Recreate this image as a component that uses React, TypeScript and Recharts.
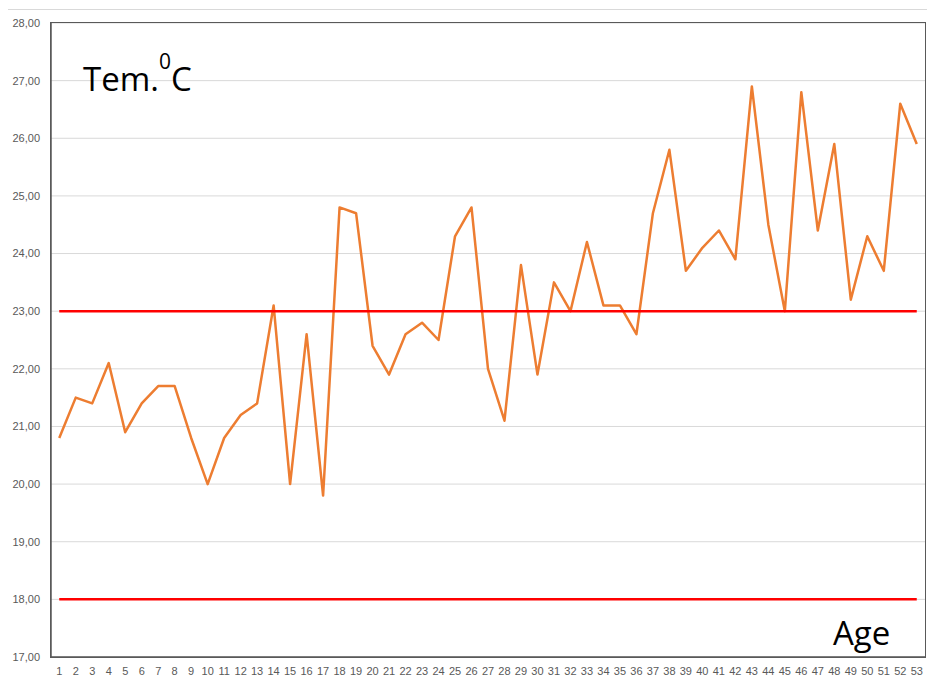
import React from "react";
import { LineChart, Line, XAxis, YAxis, CartesianGrid, ReferenceLine } from "recharts";

const ages = [
  1, 2, 3, 4, 5, 6, 7, 8, 9, 10, 11, 12, 13, 14, 15, 16, 17, 18, 19, 20, 21, 22, 23, 24, 25, 26, 27,
  28, 29, 30, 31, 32, 33, 34, 35, 36, 37, 38, 39, 40, 41, 42, 43, 44, 45, 46, 47, 48, 49, 50, 51, 52, 53,
];

const temps = [
  20.8, 21.5, 21.4, 22.1, 20.9, 21.4, 21.7, 21.7, 20.8, 20.0,
  20.8, 21.2, 21.4, 23.1, 20.0, 22.6, 19.8, 24.8, 24.7, 22.4,
  21.9, 22.6, 22.8, 22.5, 24.3, 24.8, 22.0, 21.1, 23.8, 21.9,
  23.5, 23.0, 24.2, 23.1, 23.1, 22.6, 24.7, 25.8, 23.7, 24.1,
  24.4, 23.9, 26.9, 24.5, 23.0, 26.8, 24.4, 25.9, 23.2, 24.3,
  23.7, 26.6, 25.9,
];

const yTicks = [17, 18, 19, 20, 21, 22, 23, 24, 25, 26, 27, 28];
const upperLimit = 23;
const lowerLimit = 18;
const yTitle = "Tem.";
const yTitleSup = "0";
const yTitleUnit = "C";
const xTitle = "Age";

const data = ages.map((a, i) => ({ age: a, temp: temps[i] }));

const fmt = (v: number) => v.toFixed(2).replace(".", ",");

const M = { top: 15, right: 10, bottom: 4, left: 0 };
const W = 927;
const H = 673;
const YW = 43;
const XH = 20;

export default function App() {
  const first = ages[0];
  const last = ages[ages.length - 1];
  return (
    <div style={{ position: "relative", width: W, height: H }}>
      <style>{`body{overflow:hidden}`}</style>
      <div
        style={{
          position: "absolute",
          left: -1,
          top: 1,
          width: 940,
          height: 690,
          border: "1px solid #d9d9d9",
          boxSizing: "border-box",
        }}
      />
      <div style={{ position: "absolute", left: 0, top: 0 }}>
        <LineChart width={W} height={H} data={data} margin={M}>
          <CartesianGrid vertical={false} stroke="#d9d9d9" strokeWidth={1} />
          <XAxis
            dataKey="age"
            type="category"
            scale="band"
            interval={0}
            tickSize={0}
            tickMargin={10}
            height={XH}
            axisLine={{ stroke: "#595959", strokeWidth: 1.5 }}
            tick={{ fill: "#595959", fontSize: 11, fontFamily: "Liberation Sans" }}
          />
          <YAxis
            domain={[17, 28]}
            ticks={yTicks}
            interval={0}
            width={YW}
            tickSize={0}
            tickMargin={11}
            tickFormatter={fmt}
            axisLine={{ stroke: "#595959", strokeWidth: 1.5 }}
            tick={{ fill: "#595959", fontSize: 11, fontFamily: "Liberation Sans" }}
          />
          <Line
            dataKey="temp"
            stroke="#ed7d31"
            strokeWidth={2.5}
            dot={false}
            isAnimationActive={false}
            strokeLinejoin="round"
          />
          <ReferenceLine
            segment={[
              { x: first, y: upperLimit },
              { x: last, y: upperLimit },
            ]}
            stroke="#ff0000"
            strokeWidth={2.5}
          />
          <ReferenceLine
            segment={[
              { x: first, y: lowerLimit },
              { x: last, y: lowerLimit },
            ]}
            stroke="#ff0000"
            strokeWidth={2.5}
          />
        </LineChart>
      </div>
      <div
        style={{
          position: "absolute",
          left: M.left + YW - 0.75,
          top: M.top - 0.75,
          width: W - M.left - M.right - YW + 1.5,
          height: H - M.top - M.bottom - XH + 1.5,
          border: "1.5px solid #595959",
          boxSizing: "border-box",
          pointerEvents: "none",
        }}
      />
      <svg
        width={W}
        height={H}
        style={{ position: "absolute", left: 0, top: 0, pointerEvents: "none" }}
      >
        <text x={75} y={83} fontFamily="Open Sans" fontSize={33} fill="#000">
          {yTitle}
          <tspan fontSize={21} dy={-22}>{yTitleSup}</tspan>
          <tspan dy={22}>{yTitleUnit}</tspan>
        </text>
        <text x={825} y={637} fontFamily="Open Sans" fontSize={33} fill="#000">
          {xTitle}
        </text>
      </svg>
    </div>
  );
}
